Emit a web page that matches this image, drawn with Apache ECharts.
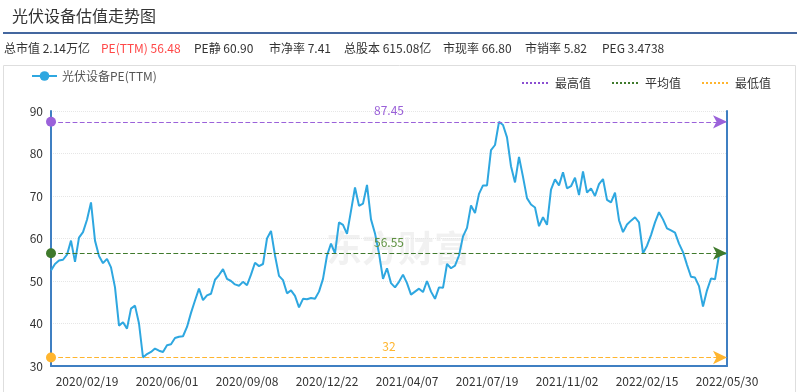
<!DOCTYPE html>
<html>
<head>
<meta charset="utf-8">
<script src="https://cdn.jsdelivr.net/npm/echarts@6/dist/echarts.min.js"></script>
<style>
html,body{margin:0;padding:0;background:#fff;}
#chart{width:800px;height:392px;}
</style>
</head>
<body>
<div id="chart"></div>
<script>
// ---- data ----
const chartTitle = '光伏设备估值走势图';
const seriesName = '光伏设备PE(TTM)';
const tickDates = ['2020/02/19','2020/06/01','2020/09/08','2020/12/22','2021/04/07','2021/07/19','2021/11/02','2022/02/15','2022/05/30'];
const firstTickIndex = 9;
const pointsPerTick = 20;
const peValues = [
  52.5,54.0,54.8,55.0,56.2,59.5,54.5,60.2,61.5,64.4,
  68.5,59.5,55.9,54.2,55.2,53.2,48.5,39.5,40.3,38.8,
  43.5,44.2,40.0,32.0,32.8,33.3,34.1,33.6,33.3,34.9,
  35.1,36.6,36.9,37.0,39.2,42.5,45.4,48.2,45.5,46.6,
  47.0,50.3,51.4,52.8,50.5,50.0,49.2,48.9,49.8,49.0,
  51.5,54.3,53.5,54.0,60.0,61.8,56.0,51.2,50.2,47.1,
  47.8,46.5,43.8,45.8,45.7,46.0,45.8,47.5,50.5,56.0,
  58.8,56.5,63.8,63.2,61.1,66.5,72.0,67.7,68.2,72.6,
  64.5,61.2,56.5,50.5,53.0,49.5,48.5,49.8,51.5,49.5,
  46.8,47.5,48.2,47.4,50.0,47.5,45.8,48.5,48.4,54.0,
  53.0,53.6,56.0,60.5,62.5,67.8,66.0,70.5,72.5,72.5,
  80.8,82.0,87.45,86.7,83.8,77.0,73.2,79.2,74.5,69.5,
  68.0,67.3,62.9,65.0,63.2,71.5,73.9,72.5,75.6,71.8,
  72.3,74.3,70.2,75.8,70.8,71.8,70.0,72.8,74.0,69.1,
  68.5,70.8,64.3,61.5,63.3,64.2,65.0,63.8,56.5,58.3,
  60.8,63.8,66.2,64.5,62.4,61.9,61.4,58.8,56.8,53.8,
  51.0,50.8,48.8,44.0,47.8,50.6,50.4,56.1,56.4,56.48
];
const maxVal = 87.45, avgVal = 56.55, minVal = 32;
const refNames = ['最高值','平均值','最低值'];
const stats = [
  ['总市值 2.14万亿', '#333'],
  ['PE(TTM) 56.48', '#ff4848'],
  ['PE静 60.90', '#333'],
  ['市净率 7.41', '#333'],
  ['总股本 615.08亿', '#333'],
  ['市现率 66.80', '#333'],
  ['市销率 5.82', '#333'],
  ['PEG 3.4738', '#333']
];
const yMin = 30, yMax = 90, yStep = 10;

// ---- categories (dates spaced between the tick dates) ----
function fmt(d){const p=n=>String(n).padStart(2,'0');return d.getFullYear()+'/'+p(d.getMonth()+1)+'/'+p(d.getDate());}
const tickMs = tickDates.map(s=>new Date(s.replace(/\//g,'-')+'T00:00:00').getTime());
const categories = peValues.map((v,i)=>{
  let k = Math.floor((i-firstTickIndex)/pointsPerTick);
  k = Math.max(0, Math.min(tickMs.length-2, k));
  const a = tickMs[k], b = tickMs[k+1];
  const f = (i - (firstTickIndex + k*pointsPerTick))/pointsPerTick;
  return fmt(new Date(Math.round(a + (b-a)*f)));
});
const tickIdxSet = new Set(tickDates.map((t,j)=>firstTickIndex + j*pointsPerTick));

const FONT = "'Noto Sans CJK SC', 'Microsoft YaHei', sans-serif";
const statX = [4,101,194,269,344,443,525,602];
const refColors = ['#8b4fd2','#3f7a2c','#ffb52e'];
const refLine = ['#9b62da','#3f7a2c','#ffb52e'];
const refLabel = ['#9a60d8','#5e9140','#ffb52e'];
const refVals = [maxVal, avgVal, minVal];

const chart = echarts.init(document.getElementById('chart'), null, {renderer:'canvas'});
const option = {
  animation: false,
  textStyle: {fontFamily: FONT},
  graphic: [
    {type:'rect', shape:{x:3.5,y:65.5,width:792,height:340}, style:{fill:'none', stroke:'#dedede', lineWidth:1}, silent:true},
    {type:'text', left:12, top:8, style:{text:chartTitle, font:'16px '+FONT, fill:'#333'}},
    {type:'rect', shape:{x:3,y:32,width:794,height:2}, style:{fill:'#44679f'}},
    ...stats.map((s,i)=>({type:'text', left:statX[i], top:42, style:{text:s[0], font:'12px '+FONT, fill:s[1]}})),
    {type:'text', left:326, top:230, z:0, silent:true, style:{text:'东方财富', font:'bold 36px '+FONT, fill:'rgba(0,0,0,0.055)'}}
  ],
  legend: [
    {data:[seriesName], left:26, top:65, itemWidth:25, itemHeight:12, itemGap:10,
     textStyle:{fontSize:12, color:'#555', fontFamily:FONT}},
    {data:refNames.map(n=>({name:n, itemStyle:{opacity:0}})), right:24, top:72, itemWidth:28, itemHeight:12, itemGap:20,
     textStyle:{fontSize:12, color:'#333', fontFamily:FONT}}
  ],
  grid: {left:51, right:73, top:111, bottom:26, containLabel:false},
  xAxis: {
    type:'category', data:categories, boundaryGap:false,
    axisLine:{show:true, lineStyle:{color:'#3f7fc2', width:2}},
    axisTick:{show:false},
    axisLabel:{interval:(idx)=>tickIdxSet.has(idx), color:'#333', fontSize:12, margin:9, fontFamily:FONT},
    splitLine:{show:false}
  },
  yAxis: [
    {type:'value', min:yMin, max:yMax, interval:yStep,
     axisLine:{show:true, lineStyle:{color:'#3f7fc2', width:2}},
     axisTick:{show:false},
     axisLabel:{color:'#333', fontSize:12, margin:8, fontFamily:FONT},
     splitLine:{show:true, lineStyle:{color:'#e6e6e6', type:'dotted', width:1}}},
    {type:'value', min:yMin, max:yMax, interval:yStep, position:'right',
     axisLine:{show:true, lineStyle:{color:'#3f7fc2', width:2}},
     axisTick:{show:false}, axisLabel:{show:false}, splitLine:{show:false}}
  ],
  series: [
    {name:seriesName, type:'line', data:peValues, symbol:'circle', symbolSize:8, showSymbol:false,
     itemStyle:{color:'#2ea7e0'}, lineStyle:{color:'#2ea7e0', width:2}, z:3,
     markLine:{silent:true, symbol:['circle','arrow'], symbolSize:[10,14], precision:2,
       data: refVals.map((v,i)=>({yAxis:v, name:refNames[i],
         lineStyle:{color:refLine[i], type:'dashed', width:1.2, opacity:1},
         itemStyle:{color:refColors[i]},
         label:{show:true, position:'insideMiddleTop', formatter:String(v), color:refLabel[i], fontSize:12, fontFamily:FONT}}))
     }},
    ...refNames.map((n,i)=>({name:n, type:'line', data:[], symbol:'none', symbolSize:0,
      itemStyle:{color:refColors[i]}, lineStyle:{color:refColors[i], type:'dotted', width:2}}))
  ]
};
chart.setOption(option);
</script>
</body>
</html>
